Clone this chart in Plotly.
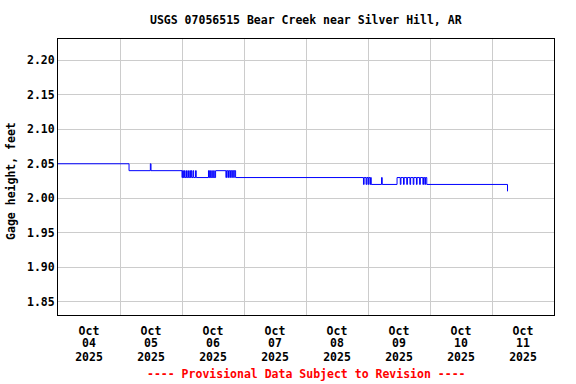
import plotly.graph_objects as go

# Step-change points of the gage-height record (value holds until next time)
times = [
    "2025-10-04 00:00", "2025-10-05 03:30", "2025-10-05 11:45", "2025-10-05 12:00",
    "2025-10-06 00:00", "2025-10-06 00:15", "2025-10-06 00:30", "2025-10-06 00:45",
    "2025-10-06 01:00", "2025-10-06 01:30", "2025-10-06 01:45", "2025-10-06 02:15",
    "2025-10-06 02:30", "2025-10-06 03:00", "2025-10-06 03:15", "2025-10-06 03:30",
    "2025-10-06 03:45", "2025-10-06 04:15", "2025-10-06 04:30", "2025-10-06 05:15",
    "2025-10-06 05:30",
    "2025-10-06 10:15", "2025-10-06 10:30", "2025-10-06 10:45", "2025-10-06 11:00",
    "2025-10-06 11:30", "2025-10-06 11:45", "2025-10-06 12:15", "2025-10-06 12:30",
    "2025-10-06 13:00",
    "2025-10-06 17:00", "2025-10-06 17:15", "2025-10-06 17:45", "2025-10-06 18:00",
    "2025-10-06 18:30", "2025-10-06 18:45", "2025-10-06 19:15", "2025-10-06 19:30",
    "2025-10-06 20:00", "2025-10-06 20:15", "2025-10-06 20:45",
    "2025-10-08 22:15", "2025-10-08 22:30", "2025-10-08 23:15", "2025-10-08 23:30",
    "2025-10-09 00:00", "2025-10-09 00:15", "2025-10-09 00:45", "2025-10-09 01:00",
    "2025-10-09 01:15",
    "2025-10-09 05:15", "2025-10-09 05:30",
    "2025-10-09 11:15", "2025-10-09 12:30", "2025-10-09 12:45", "2025-10-09 13:45",
    "2025-10-09 14:00", "2025-10-09 15:00", "2025-10-09 15:15", "2025-10-09 16:15",
    "2025-10-09 16:30", "2025-10-09 17:30", "2025-10-09 17:45", "2025-10-09 18:45",
    "2025-10-09 19:00", "2025-10-09 20:00", "2025-10-09 20:15", "2025-10-09 21:15",
    "2025-10-09 21:30", "2025-10-09 22:00", "2025-10-09 22:15", "2025-10-09 22:45",
    "2025-10-11 06:00",
]
gage_ft = [
    2.05, 2.04, 2.05, 2.04,
    2.03, 2.04, 2.03, 2.04,
    2.03, 2.04, 2.03, 2.04,
    2.03, 2.04, 2.03, 2.04,
    2.03, 2.04, 2.03, 2.04,
    2.03,
    2.04, 2.03, 2.04, 2.03,
    2.04, 2.03, 2.04, 2.03,
    2.04,
    2.03, 2.04, 2.03, 2.04,
    2.03, 2.04, 2.03, 2.04,
    2.03, 2.04, 2.03,
    2.02, 2.03, 2.02, 2.03,
    2.02, 2.03, 2.02, 2.03,
    2.02,
    2.03, 2.02,
    2.03, 2.02, 2.03, 2.02,
    2.03, 2.02, 2.03, 2.02,
    2.03, 2.02, 2.03, 2.02,
    2.03, 2.02, 2.03, 2.02,
    2.03, 2.02, 2.03, 2.02,
    2.01,
]

tick_days = ["04", "05", "06", "07", "08", "09", "10", "11"]
tick_vals = [f"2025-10-{d} 12:00" for d in tick_days]
tick_month = ["Oct"] * len(tick_days)
tick_year = ["2025"] * len(tick_days)
y_ticks = [1.85, 1.90, 1.95, 2.00, 2.05, 2.10, 2.15, 2.20]

MONO = "DejaVu Sans Mono"
FS = 11.5
X_RANGE = ["2025-10-04 00:00", "2025-10-12 00:00"]

fig = go.Figure()
fig.add_trace(go.Scatter(
    x=times, y=gage_ft, mode="lines", line=dict(color="#0000FF", width=1, shape="hv"),
    showlegend=False, hoverinfo="x+y",
))

W, H = 576, 384
ML, MT, PW, PH = 58, 39, 496, 276
fig.update_layout(
    width=W, height=H,
    margin=dict(l=ML, r=W - ML - PW, t=MT, b=H - MT - PH),
    paper_bgcolor="white", plot_bgcolor="white",
    font=dict(family=MONO, size=FS, color="black"),
)

tfont = dict(family=MONO, size=FS, color="black", weight="bold")
fig.update_layout(
    xaxis=dict(
        range=X_RANGE, type="date",
        tickmode="array", tickvals=tick_vals, ticktext=tick_month,
        ticks="", showgrid=False, zeroline=False, tickfont=tfont,
        ticklabelstandoff=5,
        minor=dict(dtick=86400000, tick0="2025-10-04", showgrid=True,
                   gridcolor="#cccccc", gridwidth=1, ticks=""),
        showline=True, mirror=True, linecolor="black", linewidth=1,
    ),
    xaxis2=dict(
        range=X_RANGE, type="date", overlaying="x", anchor="y", side="bottom",
        tickmode="array", tickvals=tick_vals, ticktext=tick_days,
        ticks="", showgrid=False, zeroline=False, tickfont=tfont,
        ticklabelstandoff=19, showline=False,
    ),
    xaxis3=dict(
        range=X_RANGE, type="date", overlaying="x", anchor="y", side="bottom",
        tickmode="array", tickvals=tick_vals, ticktext=tick_year,
        ticks="", showgrid=False, zeroline=False, tickfont=tfont,
        ticklabelstandoff=33, showline=False,
    ),
    yaxis=dict(
        range=[1.8306, 2.231],
        tickmode="array", tickvals=y_ticks, tickformat=".2f",
        ticks="", showgrid=True, gridcolor="#cccccc", gridwidth=1, zeroline=False,
        tickfont=tfont,
        showline=True, mirror=True, linecolor="black", linewidth=1,
    ),
)
# empty traces so the extra label axes are drawn
fig.add_trace(go.Scatter(x=[], y=[], xaxis="x2", yaxis="y", showlegend=False))
fig.add_trace(go.Scatter(x=[], y=[], xaxis="x3", yaxis="y", showlegend=False))

fig.add_annotation(
    text="<b>USGS 07056515 Bear Creek near Silver Hill, AR</b>",
    xref="paper", yref="paper", x=0.5, y=1.0 + 19.5 / PH,
    xanchor="center", yanchor="middle", showarrow=False,
    font=dict(family=MONO, size=FS, color="black"),
)
fig.add_annotation(
    text="<b>Gage height, feet</b>",
    xref="paper", yref="paper", x=-46.5 / PW, y=0.484,
    xanchor="center", yanchor="middle", textangle=-90, showarrow=False,
    font=dict(family=MONO, size=FS, color="black"),
)
fig.add_annotation(
    text="<b>---- Provisional Data Subject to Revision ----</b>",
    xref="paper", yref="paper", x=0.5, y=-59.0 / PH,
    xanchor="center", yanchor="middle", showarrow=False,
    font=dict(family=MONO, size=FS, color="red"),
)

# remove the default page margin so the figure fills the window exactly
fig.write_html(
    "out.html",
    config={"displayModeBar": False},
    post_script="document.body.style.margin='0px';",
)
